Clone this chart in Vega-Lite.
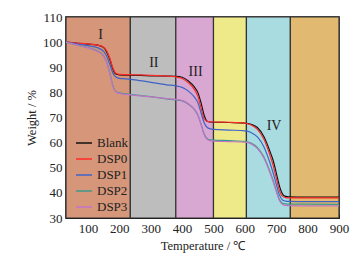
{
  "$schema": "https://vega.github.io/schema/vega-lite/v6.json",
  "width": 273,
  "height": 201,
  "autosize": {"type": "none"},
  "padding": {"left": 66, "top": 17, "right": 21, "bottom": 42},
  "background": "white",
  "config": {
    "font": "Liberation Serif",
    "view": {"stroke": "#111", "strokeWidth": 1.5},
    "axis": {"labelFont": "Liberation Serif", "titleFont": "Liberation Serif", "labelFontSize": 13, "titleFontSize": 12.5, "titleFontWeight": "normal", "labelColor": "#222", "titleColor": "#222", "domainColor": "#111", "tickColor": "#111", "grid": false, "labelOverlap": false},
    "legend": {"labelFont": "Liberation Serif"},
    "text": {"font": "Liberation Serif"}
  },
  "datasets": {
    "bands": [
      {"a": 30, "b": 235, "r": "I"},
      {"a": 235, "b": 380, "r": "II"},
      {"a": 380, "b": 500, "r": "III"},
      {"a": 500, "b": 605, "r": "Y"},
      {"a": 605, "b": 745, "r": "IV"},
      {"a": 745, "b": 900, "r": "O"}
    ],
    "labels": [
      {"t": 140, "w": 103, "txt": "I"},
      {"t": 310, "w": 91.5, "txt": "II"},
      {"t": 443, "w": 88, "txt": "III"},
      {"t": 693, "w": 66.5, "txt": "IV"}
    ],
    "curves": [
      {"s": "Blank", "t": 30, "w": 100}, {"s": "Blank", "t": 60, "w": 99.6}, {"s": "Blank", "t": 100, "w": 99.2}, {"s": "Blank", "t": 130, "w": 98.8}, {"s": "Blank", "t": 150, "w": 97.8}, {"s": "Blank", "t": 160, "w": 96}, {"s": "Blank", "t": 170, "w": 93}, {"s": "Blank", "t": 180, "w": 89}, {"s": "Blank", "t": 190, "w": 87.2}, {"s": "Blank", "t": 200, "w": 87}, {"s": "Blank", "t": 250, "w": 86.8}, {"s": "Blank", "t": 300, "w": 86.6}, {"s": "Blank", "t": 350, "w": 86.5}, {"s": "Blank", "t": 380, "w": 86.4}, {"s": "Blank", "t": 400, "w": 86}, {"s": "Blank", "t": 420, "w": 84.5}, {"s": "Blank", "t": 440, "w": 82}, {"s": "Blank", "t": 450, "w": 80}, {"s": "Blank", "t": 460, "w": 76}, {"s": "Blank", "t": 470, "w": 71}, {"s": "Blank", "t": 480, "w": 68.5}, {"s": "Blank", "t": 490, "w": 68.2}, {"s": "Blank", "t": 500, "w": 68.1}, {"s": "Blank", "t": 550, "w": 68}, {"s": "Blank", "t": 600, "w": 67.8}, {"s": "Blank", "t": 620, "w": 67.3}, {"s": "Blank", "t": 640, "w": 66}, {"s": "Blank", "t": 660, "w": 62.5}, {"s": "Blank", "t": 680, "w": 56.5}, {"s": "Blank", "t": 690, "w": 53}, {"s": "Blank", "t": 700, "w": 48}, {"s": "Blank", "t": 712, "w": 42}, {"s": "Blank", "t": 722, "w": 39.2}, {"s": "Blank", "t": 730, "w": 38.6}, {"s": "Blank", "t": 740, "w": 38.4}, {"s": "Blank", "t": 800, "w": 38.3}, {"s": "Blank", "t": 900, "w": 38.3},
      {"s": "DSP0", "t": 30, "w": 100}, {"s": "DSP0", "t": 60, "w": 99.6}, {"s": "DSP0", "t": 100, "w": 99.3}, {"s": "DSP0", "t": 130, "w": 98.8}, {"s": "DSP0", "t": 150, "w": 98}, {"s": "DSP0", "t": 160, "w": 96.5}, {"s": "DSP0", "t": 170, "w": 93.5}, {"s": "DSP0", "t": 180, "w": 89.5}, {"s": "DSP0", "t": 190, "w": 87.5}, {"s": "DSP0", "t": 200, "w": 87.2}, {"s": "DSP0", "t": 250, "w": 87}, {"s": "DSP0", "t": 300, "w": 86.8}, {"s": "DSP0", "t": 350, "w": 86.5}, {"s": "DSP0", "t": 380, "w": 86.2}, {"s": "DSP0", "t": 400, "w": 85.5}, {"s": "DSP0", "t": 420, "w": 83.8}, {"s": "DSP0", "t": 440, "w": 81}, {"s": "DSP0", "t": 450, "w": 78.5}, {"s": "DSP0", "t": 460, "w": 74}, {"s": "DSP0", "t": 470, "w": 69.5}, {"s": "DSP0", "t": 480, "w": 68.5}, {"s": "DSP0", "t": 490, "w": 68.3}, {"s": "DSP0", "t": 500, "w": 68.2}, {"s": "DSP0", "t": 550, "w": 68.1}, {"s": "DSP0", "t": 600, "w": 67.8}, {"s": "DSP0", "t": 620, "w": 67}, {"s": "DSP0", "t": 640, "w": 65.3}, {"s": "DSP0", "t": 660, "w": 61.5}, {"s": "DSP0", "t": 680, "w": 55}, {"s": "DSP0", "t": 690, "w": 51}, {"s": "DSP0", "t": 700, "w": 46}, {"s": "DSP0", "t": 710, "w": 41}, {"s": "DSP0", "t": 720, "w": 38.6}, {"s": "DSP0", "t": 730, "w": 38.1}, {"s": "DSP0", "t": 740, "w": 38}, {"s": "DSP0", "t": 800, "w": 38}, {"s": "DSP0", "t": 900, "w": 38},
      {"s": "DSP1", "t": 30, "w": 100}, {"s": "DSP1", "t": 60, "w": 99.3}, {"s": "DSP1", "t": 100, "w": 98.6}, {"s": "DSP1", "t": 130, "w": 97.8}, {"s": "DSP1", "t": 150, "w": 96.3}, {"s": "DSP1", "t": 160, "w": 94.3}, {"s": "DSP1", "t": 170, "w": 91}, {"s": "DSP1", "t": 180, "w": 87.5}, {"s": "DSP1", "t": 190, "w": 86}, {"s": "DSP1", "t": 200, "w": 85.6}, {"s": "DSP1", "t": 220, "w": 85.4}, {"s": "DSP1", "t": 250, "w": 85}, {"s": "DSP1", "t": 300, "w": 84}, {"s": "DSP1", "t": 350, "w": 83}, {"s": "DSP1", "t": 380, "w": 82.6}, {"s": "DSP1", "t": 400, "w": 82}, {"s": "DSP1", "t": 420, "w": 80.5}, {"s": "DSP1", "t": 440, "w": 78}, {"s": "DSP1", "t": 450, "w": 76}, {"s": "DSP1", "t": 460, "w": 72}, {"s": "DSP1", "t": 470, "w": 68}, {"s": "DSP1", "t": 480, "w": 66}, {"s": "DSP1", "t": 490, "w": 65.5}, {"s": "DSP1", "t": 500, "w": 65.3}, {"s": "DSP1", "t": 550, "w": 65}, {"s": "DSP1", "t": 600, "w": 64.7}, {"s": "DSP1", "t": 620, "w": 64}, {"s": "DSP1", "t": 640, "w": 62.3}, {"s": "DSP1", "t": 660, "w": 58.5}, {"s": "DSP1", "t": 680, "w": 52}, {"s": "DSP1", "t": 690, "w": 48}, {"s": "DSP1", "t": 700, "w": 43.5}, {"s": "DSP1", "t": 710, "w": 39.2}, {"s": "DSP1", "t": 720, "w": 37.2}, {"s": "DSP1", "t": 730, "w": 36.7}, {"s": "DSP1", "t": 740, "w": 36.6}, {"s": "DSP1", "t": 800, "w": 36.5}, {"s": "DSP1", "t": 900, "w": 36.5},
      {"s": "DSP2", "t": 30, "w": 100}, {"s": "DSP2", "t": 60, "w": 99}, {"s": "DSP2", "t": 100, "w": 97.8}, {"s": "DSP2", "t": 130, "w": 96.5}, {"s": "DSP2", "t": 150, "w": 94.5}, {"s": "DSP2", "t": 160, "w": 92}, {"s": "DSP2", "t": 170, "w": 87.5}, {"s": "DSP2", "t": 180, "w": 82.5}, {"s": "DSP2", "t": 190, "w": 80.2}, {"s": "DSP2", "t": 200, "w": 79.8}, {"s": "DSP2", "t": 220, "w": 79.4}, {"s": "DSP2", "t": 250, "w": 79}, {"s": "DSP2", "t": 300, "w": 78.3}, {"s": "DSP2", "t": 350, "w": 77.4}, {"s": "DSP2", "t": 380, "w": 77}, {"s": "DSP2", "t": 400, "w": 76.6}, {"s": "DSP2", "t": 420, "w": 75.3}, {"s": "DSP2", "t": 440, "w": 73}, {"s": "DSP2", "t": 450, "w": 71}, {"s": "DSP2", "t": 460, "w": 67.5}, {"s": "DSP2", "t": 470, "w": 63.5}, {"s": "DSP2", "t": 480, "w": 61.6}, {"s": "DSP2", "t": 490, "w": 61.1}, {"s": "DSP2", "t": 500, "w": 61}, {"s": "DSP2", "t": 550, "w": 60.8}, {"s": "DSP2", "t": 600, "w": 60.5}, {"s": "DSP2", "t": 620, "w": 59.8}, {"s": "DSP2", "t": 640, "w": 58}, {"s": "DSP2", "t": 660, "w": 54.5}, {"s": "DSP2", "t": 680, "w": 48.5}, {"s": "DSP2", "t": 690, "w": 45}, {"s": "DSP2", "t": 700, "w": 41}, {"s": "DSP2", "t": 710, "w": 37.5}, {"s": "DSP2", "t": 720, "w": 35.9}, {"s": "DSP2", "t": 730, "w": 35.6}, {"s": "DSP2", "t": 740, "w": 35.5}, {"s": "DSP2", "t": 800, "w": 35.5}, {"s": "DSP2", "t": 900, "w": 35.4},
      {"s": "DSP3", "t": 30, "w": 100}, {"s": "DSP3", "t": 60, "w": 99}, {"s": "DSP3", "t": 100, "w": 97.7}, {"s": "DSP3", "t": 130, "w": 96.3}, {"s": "DSP3", "t": 150, "w": 94.3}, {"s": "DSP3", "t": 160, "w": 91.8}, {"s": "DSP3", "t": 170, "w": 87.2}, {"s": "DSP3", "t": 180, "w": 82.2}, {"s": "DSP3", "t": 190, "w": 80}, {"s": "DSP3", "t": 200, "w": 79.6}, {"s": "DSP3", "t": 220, "w": 79.2}, {"s": "DSP3", "t": 250, "w": 78.8}, {"s": "DSP3", "t": 300, "w": 78.2}, {"s": "DSP3", "t": 350, "w": 77.5}, {"s": "DSP3", "t": 380, "w": 77.2}, {"s": "DSP3", "t": 400, "w": 76.8}, {"s": "DSP3", "t": 420, "w": 75.5}, {"s": "DSP3", "t": 440, "w": 73.2}, {"s": "DSP3", "t": 450, "w": 71.2}, {"s": "DSP3", "t": 460, "w": 67.5}, {"s": "DSP3", "t": 470, "w": 63.2}, {"s": "DSP3", "t": 480, "w": 61.2}, {"s": "DSP3", "t": 490, "w": 60.7}, {"s": "DSP3", "t": 500, "w": 60.6}, {"s": "DSP3", "t": 550, "w": 60.4}, {"s": "DSP3", "t": 600, "w": 60.2}, {"s": "DSP3", "t": 620, "w": 59.5}, {"s": "DSP3", "t": 640, "w": 57.6}, {"s": "DSP3", "t": 660, "w": 54}, {"s": "DSP3", "t": 680, "w": 48}, {"s": "DSP3", "t": 690, "w": 44.5}, {"s": "DSP3", "t": 700, "w": 40.5}, {"s": "DSP3", "t": 710, "w": 37}, {"s": "DSP3", "t": 720, "w": 35.4}, {"s": "DSP3", "t": 730, "w": 35}, {"s": "DSP3", "t": 740, "w": 34.9}, {"s": "DSP3", "t": 800, "w": 34.8}, {"s": "DSP3", "t": 900, "w": 34.8}
    ]
  },
  "layer": [
    {
      "data": {"name": "bands"},
      "mark": {"type": "rect", "stroke": "#333", "strokeWidth": 1.2},
      "encoding": {
        "x": {"field": "a", "type": "quantitative", "scale": {"domain": [30, 900], "nice": false, "zero": false}, "title": "Temperature / ℃", "axis": {"values": [100, 200, 300, 400, 500, 600, 700, 800, 900], "tickCount": 20, "tickSize": -4, "labelPadding": 8, "titlePadding": 4, "labelOverlap": false, "labelFlush": false, "labelBound": false}},
        "x2": {"field": "b"},
        "y": {"datum": 110, "type": "quantitative", "scale": {"domain": [30, 110], "nice": false, "zero": false}, "title": "Weight / %", "axis": {"values": [30, 40, 50, 60, 70, 80, 90, 100, 110], "tickCount": 20, "tickSize": -4, "labelPadding": 8, "titlePadding": 4, "labelOverlap": false, "labelFlush": false, "labelBound": false}},
        "y2": {"datum": 30},
        "fill": {"field": "r", "type": "nominal", "legend": null, "scale": {"domain": ["I", "II", "III", "Y", "IV", "O"], "range": ["#D59679", "#BDBDBD", "#D9A8D2", "#EEEA8A", "#A9DCE1", "#E2B971"]}}
      }
    },
    {
      "data": {"name": "curves"},
      "mark": {"type": "line", "strokeWidth": 1.2, "interpolate": "monotone"},
      "encoding": {
        "x": {"field": "t", "type": "quantitative", "title": "Temperature / ℃"},
        "y": {"field": "w", "type": "quantitative", "title": "Weight / %"},
        "stroke": {"field": "s", "type": "nominal", "scale": {"domain": ["Blank", "DSP0", "DSP1", "DSP2", "DSP3"], "range": ["#111111", "#FF2A2A", "#3F62C8", "#3C9A88", "#C274C6"]},
          "legend": {"title": null, "orient": "none", "legendX": 9, "legendY": 117, "symbolType": "stroke", "symbolSize": 256, "symbolStrokeWidth": 1.5, "labelFont": "Liberation Serif", "labelFontSize": 13, "labelColor": "#222", "rowPadding": -2.5, "labelOffset": 4}}
      }
    },
    {
      "data": {"name": "labels"},
      "mark": {"type": "text", "font": "Liberation Serif", "fontSize": 14, "color": "#222"},
      "encoding": {
        "x": {"field": "t", "type": "quantitative"},
        "y": {"field": "w", "type": "quantitative"},
        "text": {"field": "txt"}
      }
    }
  ]
}
